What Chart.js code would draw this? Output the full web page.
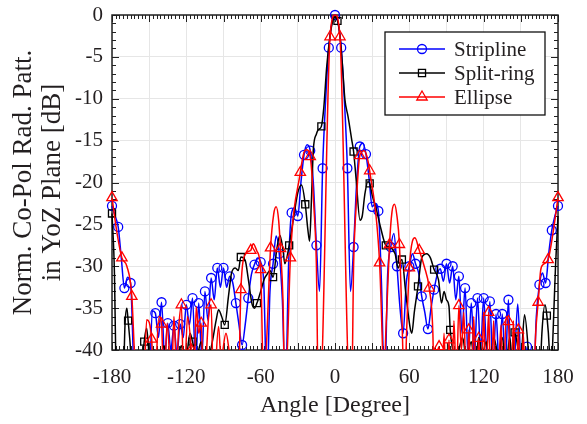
<!DOCTYPE html>
<html>
<head>
<meta charset="utf-8">
<script src="https://cdn.jsdelivr.net/npm/chart.js@4/dist/chart.umd.min.js"></script>
<style>
  html, body { margin: 0; padding: 0; background: #fff; }
  canvas { display: block; }
</style>
</head>
<body>
<canvas id="patternChart" width="587" height="424"></canvas>
<script>
// Stripline (blue circles)
const stripAngles = [-180, -177.5, -175, -172.5, -170, -167.5, -165, -162.5, -160, -155, -150, -147.5, -145, -142.5, -140, -137.5, -135, -132.5, -130, -127.5, -125, -122.5, -120, -117.5, -115, -112.5, -110, -107.5, -105, -102.5, -100, -97.5, -95, -92.5, -90, -87.5, -85, -82.5, -80, -77.5, -75, -72.5, -70, -67.5, -65, -62.5, -60, -57.5, -55, -52.5, -50, -47.5, -45, -42.5, -40, -37.5, -35, -32.5, -30, -27.5, -25, -22.5, -20, -17.5, -15, -12.5, -10, -7.5, -5, -2.5, 0, 2.5, 5, 7.5, 10, 12.5, 15, 17.5, 20, 22.5, 25, 27.5, 30, 32.5, 35, 37.5, 40, 42.5, 45, 47.5, 50, 52.5, 55, 57.5, 60, 62.5, 65, 67.5, 70, 72.5, 75, 77.5, 80, 82.5, 85, 87.5, 90, 92.5, 95, 97.5, 100, 102.5, 105, 107.5, 110, 112.5, 115, 117.5, 120, 122.5, 125, 127.5, 130, 132.5, 135, 137.5, 140, 142.5, 145, 147.5, 150, 152.5, 155, 157.5, 160, 162.5, 165, 167.5, 170, 172.5, 175, 177.5, 180];
const stripDb = [-22.8, -24, -25.3, -29, -32.6, -31.3, -32, -42, -50, -50, -46, -35.3, -35.6, -38.5, -34.3, -41, -36.8, -40, -37.1, -40.5, -36.9, -38.5, -34.6, -37, -33.8, -42, -34.4, -41, -33, -36.5, -31.4, -34, -30.2, -32.5, -30.2, -32.5, -31.2, -32, -34.4, -37, -39.4, -37, -33.8, -31, -29.8, -29, -29.5, -32, -45, -33, -29.7, -26.4, -28.5, -34, -45, -30, -23.6, -23, -24, -20, -16.7, -15.5, -16.2, -20, -27.5, -33, -18.3, -10, -3.9, -0.9, 0, -0.9, -3.9, -10, -18.3, -33, -27.7, -20, -15.7, -15.3, -16.6, -19.5, -22.9, -22.5, -23.4, -32, -45, -31, -27.7, -26.1, -30, -35, -38, -32, -30, -28.5, -29.7, -30.8, -33.6, -35.5, -37.5, -35, -32.8, -31, -30.3, -31.8, -29.7, -32, -30, -34, -31.2, -38, -32.6, -41, -34.4, -41, -33.8, -40, -33.8, -40, -34.2, -42, -35.7, -42, -35.7, -42, -34, -45, -41, -34.5, -42, -45, -39.6, -45, -45, -36, -32.2, -30.8, -32, -28.5, -25.7, -24, -22.8];

// Split-ring (black squares)
const splitAngles = [-180, -178, -176.5, -174, -171, -169.5, -168, -167, -165, -163, -158, -155.5, -154, -152, -150, -148, -146, -144, -141, -138, -135, -131, -128, -124, -121, -117, -115, -112, -108, -105, -102, -99, -96, -94, -91.5, -89, -86, -83.5, -80.5, -78, -76, -72.5, -70, -67, -65, -63, -60, -57, -55, -52.5, -50, -47, -44.5, -42, -40.5, -37, -33, -30, -27, -24, -22, -20.5, -19, -17.5, -15, -13.5, -11, -9, -6.7, -4, -2, 0, 2, 4, 6, 8, 10.5, 13.5, 15, 17, 20.2, 22, 24, 26.5, 28, 30, 33.5, 37, 41, 44, 48.5, 51, 54, 57, 60.5, 62, 64, 67, 70, 74, 77, 80, 83.5, 86, 88, 90, 92, 93, 95, 97, 100, 103, 106, 110, 113, 116, 119, 122, 125, 128, 132, 135, 138, 141, 143, 145, 148, 150, 153, 156, 158, 160, 165, 167, 169.5, 171, 173, 174, 176, 178, 180];
const splitDb = [-23.7, -31, -45, -50, -45, -37, -35, -36.5, -40, -46, -50, -42, -39, -37.4, -41, -45, -40, -42.5, -41.5, -39.5, -42, -40, -41.5, -39.5, -42, -38, -39, -41, -39, -42, -41, -39, -36.5, -35.2, -36, -37, -33.6, -30.8, -30.2, -30.5, -28.9, -29.3, -31.5, -34.5, -35, -34.4, -33, -31.5, -31, -30.5, -31.3, -28, -26.3, -28, -29.7, -27.5, -23.8, -21.2, -20.3, -22.6, -25.5, -27, -22, -16.1, -14.2, -13.7, -13.3, -11, -6.2, -2.5, -0.8, -0.2, -0.7, -2.5, -6, -10.1, -12.1, -14.9, -16.3, -19.5, -24.5, -24, -21.5, -19.9, -20.1, -21.5, -23.3, -25.5, -27.5, -27.7, -28.5, -30.2, -29.2, -33, -37.2, -38, -35.5, -32.4, -29, -28.5, -29, -30.4, -31.6, -34.4, -33, -34, -34.8, -37.6, -40, -42, -40, -38.5, -41, -39, -42, -38.5, -40.5, -39, -42, -38.5, -40.5, -38.5, -42, -38.5, -41, -37.9, -40, -41, -35.8, -40, -45, -50, -45, -38, -34.6, -35.9, -40, -45, -38, -30, -24];

// Ellipse (red triangles)
const ellipseAngles = [-180, -176, -172, -168, -164, -162, -160, -156, -154.5, -152, -148, -146, -142, -140, -138, -135.5, -132, -130, -128, -126, -124, -122, -119, -116, -114, -112, -110, -108, -106, -102, -100, -98, -94, -92, -88, -84, -80, -78, -76, -72, -68, -66, -63, -60, -57.5, -55.5, -52, -49.5, -47.5, -45.5, -44, -42, -40.5, -38.5, -36, -28, -25, -23, -20, -17, -15, -13.5, -12, -4, 0, 4, 12, 13.5, 15, 17, 20, 23.5, 26, 28, 36, 38, 39.5, 41, 44, 46, 48, 50, 52, 54, 56, 58, 60, 62.5, 64.5, 68, 72, 76, 79, 80, 82, 84, 86, 88, 90, 92, 94, 96, 98, 100, 102, 104, 106, 108, 110, 112, 114, 116, 118, 120, 122, 124, 126, 128, 130, 132, 134, 136, 138, 140, 142, 144, 146, 148, 150, 152, 154, 156, 158, 160, 162, 164, 166, 168, 172, 176, 180];
const ellipseDb = [-21.8, -26, -29, -30, -33.6, -40, -46, -42, -45, -36.4, -38.7, -45, -36, -36.9, -45, -36.8, -44, -36, -42, -37, -34.6, -45, -36, -40, -45, -34.8, -38, -36.8, -45, -36, -34.6, -45, -37.2, -41, -38, -41, -40, -45, -32.8, -28.5, -28.1, -27.3, -28.2, -30.4, -45, -40, -27.8, -23.8, -22.9, -24.5, -27.9, -34, -45, -40, -29, -18.8, -16.4, -16.1, -16.9, -23, -30, -45, -45, -2.6, 0, -2.6, -45, -45, -30, -23, -16.8, -16.2, -17, -18.6, -29.6, -38, -45, -38, -27.4, -23.5, -22.6, -24, -27.4, -36, -45, -37, -30.2, -27, -26.6, -28.1, -30, -32.6, -38, -45, -41, -39.6, -46, -38, -46, -38.8, -46, -36.5, -44, -34.7, -40, -35.5, -45, -37.6, -45, -36, -46, -38.6, -45, -35.5, -45, -35.5, -45, -36.5, -45, -43, -37, -46, -36, -36.6, -46, -36.5, -45, -37.6, -46, -38, -46, -46, -46, -46, -38, -34.3, -30.5, -29.8, -29.2, -26, -21.8];

const xTicks = [-180, -120, -60, 0, 60, 120, 180];
const yTicks = [-40, -35, -30, -25, -20, -15, -10, -5, 0];

const serif = "'Liberation Serif', 'DejaVu Serif', serif";
const textColor = '#231f20';

// marker only on every n-th degree, counted from -180
function onStep(a, step) {
    const k = (a + 180) / step;
    return Math.abs(k - Math.round(k)) < 1e-6;
}

function series(label, angles, values, color, style, radius, step, order) {
    return {
        label: label,
        data: angles.map((a, i) => ({ x: a, y: values[i] })),
        borderColor: color,
        borderWidth: 1.5,
        pointStyle: style,
        pointRadius: ctx => onStep(ctx.raw.x, step) ? radius : 0,
        pointBorderColor: color,
        pointBackgroundColor: 'rgba(0,0,0,0)',
        pointBorderWidth: 1.3,
        cubicInterpolationMode: 'monotone',
        fill: false,
        clip: { left: 8, right: 8, top: 8, bottom: 0 },
        order: order
    };
}

function drawMarker(ctx, style, x, y, r) {
    ctx.beginPath();
    if (style === 'circle') {
        ctx.arc(x, y, r, 0, Math.PI * 2);
    } else if (style === 'rect') {
        const s = r * Math.SQRT1_2;
        ctx.rect(x - s, y - s, 2 * s, 2 * s);
    } else {
        ctx.moveTo(x, y - r);
        ctx.lineTo(x + r * 0.866, y + r / 2);
        ctx.lineTo(x - r * 0.866, y + r / 2);
        ctx.closePath();
    }
    ctx.stroke();
}

const framePlugin = {
    id: 'frame',
    beforeDatasetsDraw(chart) {
        const { ctx, chartArea: a, scales: { x, y } } = chart;
        ctx.save();
        ctx.strokeStyle = '#222';
        ctx.lineWidth = 1;
        ctx.beginPath();
        for (let v = -180; v <= 180; v += 3) {
            const px = Math.round(x.getPixelForValue(v)) + 0.5;
            const len = v % 30 === 0 ? 7 : 4;
            ctx.moveTo(px, a.bottom); ctx.lineTo(px, a.bottom - len);
            ctx.moveTo(px, a.top); ctx.lineTo(px, a.top + len);
        }
        for (let v = -40; v <= 0; v += 1) {
            const py = Math.round(y.getPixelForValue(v)) + 0.5;
            const len = v % 5 === 0 ? 7 : 4;
            ctx.moveTo(a.left, py); ctx.lineTo(a.left + len, py);
            ctx.moveTo(a.right, py); ctx.lineTo(a.right - len, py);
        }
        ctx.stroke();
        ctx.lineWidth = 1.5;
        ctx.strokeRect(a.left, a.top, a.right - a.left, a.bottom - a.top);
        ctx.restore();
    },
    afterDatasetsDraw(chart) {
        const { ctx, chartArea: a } = chart;
        ctx.save();
        // legend box, line + marker + label
        const bx = a.right - 173, by = a.top + 17, bw = 160, bh = 83;
        ctx.fillStyle = '#fff';
        ctx.fillRect(bx, by, bw, bh);
        ctx.strokeStyle = '#111';
        ctx.lineWidth = 1.3;
        ctx.strokeRect(bx, by, bw, bh);
        ctx.font = '21px ' + serif;
        ctx.textBaseline = 'middle';
        ctx.textAlign = 'left';
        chart.data.datasets.forEach((ds, i) => {
            const ly = by + 17 + i * 24;
            ctx.strokeStyle = ds.borderColor;
            ctx.lineWidth = 1.5;
            ctx.beginPath();
            ctx.moveTo(bx + 14, ly); ctx.lineTo(bx + 60, ly);
            ctx.stroke();
            ctx.lineWidth = 1.3;
            drawMarker(ctx, ds.pointStyle, bx + 37, ly, ds.pointStyle === 'triangle' ? 6 : (ds.pointStyle === 'rect' ? 5 : 4.5));
            ctx.fillStyle = textColor;
            ctx.fillText(ds.label, bx + 69, ly + 1);
        });
        ctx.restore();
    }
};

new Chart(document.getElementById('patternChart'), {
    type: 'line',
    data: {
        datasets: [
            series('Stripline', stripAngles, stripDb, '#0000ff', 'circle', 4.5, 5, 3),
            series('Split-ring', splitAngles, splitDb, '#000000', 'rect', 5, 13, 2),
            series('Ellipse', ellipseAngles, ellipseDb, '#ff0000', 'triangle', 6, 8, 1)
        ]
    },
    options: {
        responsive: false,
        animation: false,
        layout: { padding: { left: 0, right: 29, top: 15, bottom: 0 } },
        plugins: { legend: { display: false }, tooltip: { enabled: false } },
        scales: {
            x: {
                type: 'linear',
                min: -180, max: 180,
                afterFit: s => { s.height = 74; s.paddingLeft = 0; s.paddingRight = 0; },
                afterBuildTicks: s => { s.ticks = [-180, -150, -120, -90, -60, -30, 0, 30, 60, 90, 120, 150, 180].map(v => ({ value: v })); },
                ticks: {
                    autoSkip: false, maxRotation: 0, padding: 15,
                    callback: v => xTicks.includes(v) ? String(v) : '',
                    color: textColor,
                    font: { family: serif, size: 21 }
                },
                grid: { color: '#e6e6e6', lineWidth: 1, drawTicks: false },
                border: { display: false },
                title: {
                    display: true, text: 'Angle [Degree]', color: textColor,
                    font: { family: serif, size: 24 }, padding: { top: 0, bottom: 4 }
                }
            },
            y: {
                min: -40, max: 0,
                afterFit: s => { s.width = 112; s.paddingTop = 0; s.paddingBottom = 0; },
                afterBuildTicks: s => { s.ticks = yTicks.map(v => ({ value: v })); },
                ticks: {
                    padding: 9, color: textColor,
                    font: { family: serif, size: 21 }
                },
                grid: { color: '#e6e6e6', lineWidth: 1, drawTicks: false },
                border: { display: false },
                title: {
                    display: true,
                    text: ['Norm. Co-Pol Rad. Patt.', 'in YoZ Plane [dB]'],
                    color: textColor,
                    font: { family: serif, size: 27, lineHeight: 1.08 },
                    padding: { top: 9, bottom: 0 }
                }
            }
        }
    },
    plugins: [framePlugin]
});
</script>
</body>
</html>
